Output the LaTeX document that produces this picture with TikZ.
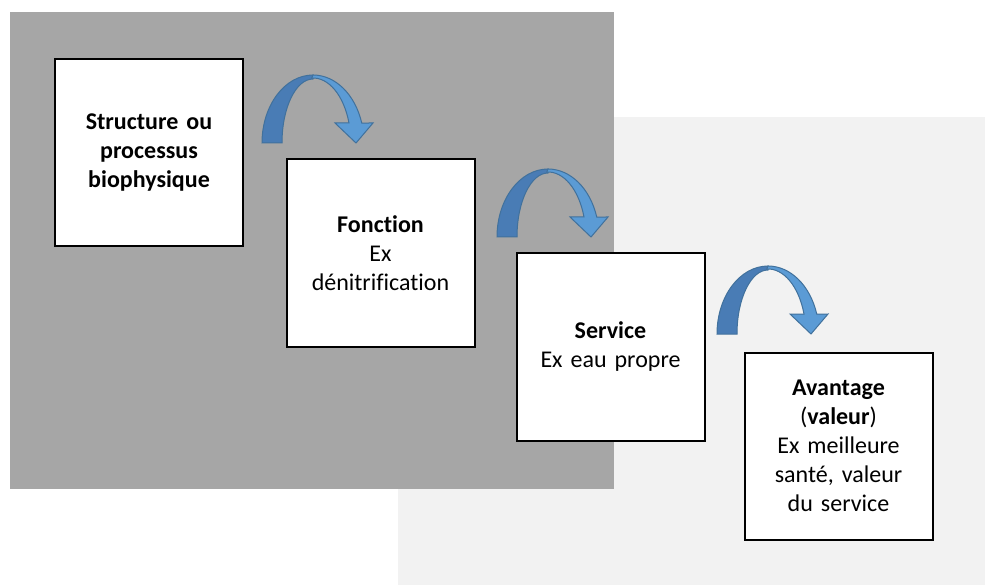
\documentclass[tikz,border=0pt]{standalone}
\usepackage{fontspec}
\setmainfont{Carlito}[Ligatures = NoCommon]

\definecolor{fondfonce}{HTML}{A6A6A6}
\definecolor{fondclair}{HTML}{F2F2F2}
\definecolor{flechebord}{HTML}{41719C}
\definecolor{flechefonce}{HTML}{497CB5}
\definecolor{flecheclair}{HTML}{5B9BD5}

\tikzset{
	boite/.style = {draw = black, line width = 2pt, fill = white, minimum width = 188pt, minimum height = 187pt, inner sep = 4pt, text width = 176pt, align = center, font = \fontsize{24}{29}\selectfont},
	fleche/.style = {draw = flechebord, line width = 1pt}
}

\begin{document}
\begin{tikzpicture}[x = 1pt, y = -1pt]
	%	fond
	\useasboundingbox (0, 0) rectangle (985, 585);
	\fill[fondclair] (398, 117) rectangle (985, 585);
	\fill[fondfonce] (10, 12) rectangle (614, 489);
	
	%	boites
	\node[boite] (structure) at (149, 153) {\textbf{Structure ou}\\\textbf{processus}\\\textbf{biophysique}};
	\node[boite] (fonction) at (380.5, 253) {\textbf{Fonction}\\Ex\\dénitrification};
	\node[boite] (service) at (610.5, 347) {\textbf{Service}\\Ex eau propre};
	\node[boite] (avantage) at (838.5, 446) {\textbf{Avantage}\\(\textbf{valeur})\\Ex meilleure\\santé, valeur\\du service};
	
	%	fleches courbes
	\def\fleche#1{
		\begin{scope}[shift = {#1}]
			\filldraw[fleche, fill = flechefonce] (-51, 0) arc[start angle = 180, end angle = 270, x radius = 51, y radius = 68] -- (0, -64) arc[start angle = 270, end angle = 180, x radius = 31, y radius = 64] -- cycle;
			\filldraw[fleche, fill = flecheclair] (0, -68) arc[start angle = 270, end angle = 342.9, x radius = 51, y radius = 68] -- (60, -20) -- (43, 0) -- (22, -20) -- (36, -20) arc[start angle = 342.1, end angle = 268, x radius = 37.8, y radius = 65] -- cycle;
		\end{scope}
	}
	\fleche{(313, 143)}
	\fleche{(548, 237)}
	\fleche{(768, 334)}
\end{tikzpicture}
\end{document}
